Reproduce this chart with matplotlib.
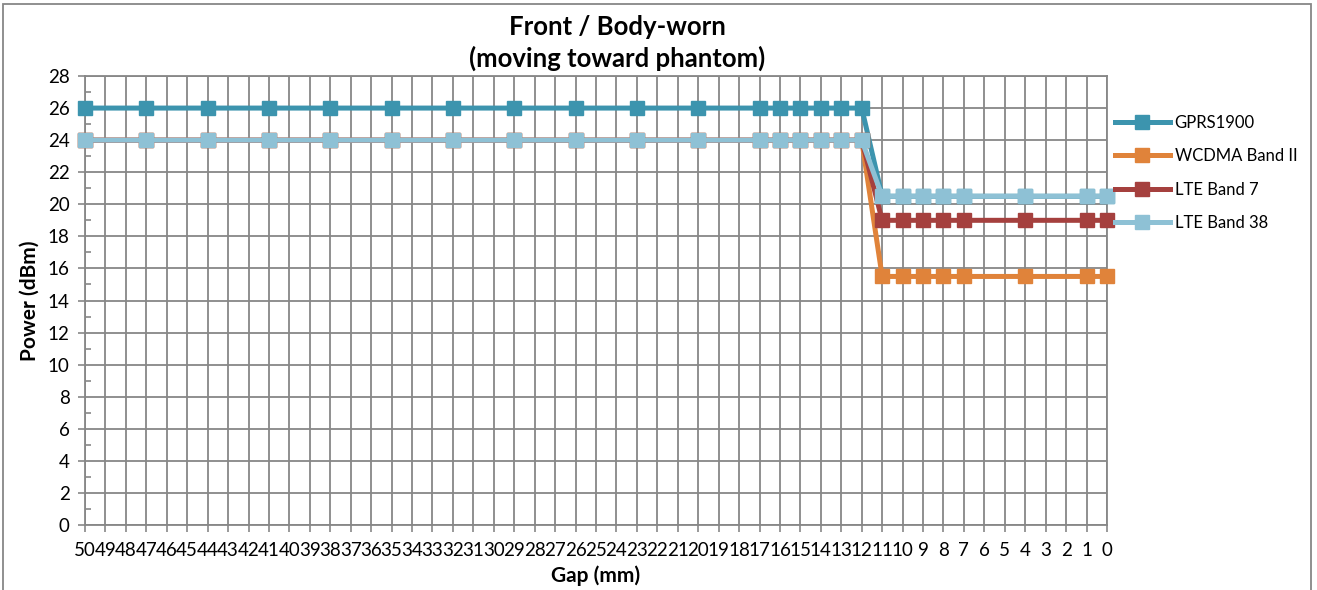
import matplotlib
matplotlib.use("Agg")
import matplotlib.pyplot as plt
from matplotlib.patches import Rectangle

# Datos
gap = [50, 47, 44, 41, 38, 35, 32, 29, 26, 23, 20, 17, 16, 15, 14, 13, 12,
       11, 10, 9, 8, 7, 4, 1, 0]
gprs1900 = [26, 26, 26, 26, 26, 26, 26, 26, 26, 26, 26, 26, 26, 26, 26, 26, 26,
            20.5, 20.5, 20.5, 20.5, 20.5, 20.5, 20.5, 20.5]
wcdma_b2 = [24, 24, 24, 24, 24, 24, 24, 24, 24, 24, 24, 24, 24, 24, 24, 24, 24,
            15.5, 15.5, 15.5, 15.5, 15.5, 15.5, 15.5, 15.5]
lte_b7 = [24, 24, 24, 24, 24, 24, 24, 24, 24, 24, 24, 24, 24, 24, 24, 24, 24,
          19, 19, 19, 19, 19, 19, 19, 19]
lte_b38 = [24, 24, 24, 24, 24, 24, 24, 24, 24, 24, 24, 24, 24, 24, 24, 24, 24,
           20.5, 20.5, 20.5, 20.5, 20.5, 20.5, 20.5, 20.5]

series = [("GPRS1900", gprs1900, "#3C94AE"),
          ("WCDMA Band II", wcdma_b2, "#E0833A"),
          ("LTE Band 7", lte_b7, "#A5403E"),
          ("LTE Band 38", lte_b38, "#8EC1D5")]

gap_labels = [str(g) for g in range(50, -1, -1)]

plt.rcParams['font.family'] = ['Lato', 'DejaVu Sans']

fig = plt.figure(figsize=(13.17, 5.90), dpi=100)
ax = fig.add_axes([85/1317, 1 - 525/590, (1107 - 85)/1317, (525 - 76)/590])

grid_col = "#878787"
x = [50 - g for g in gap]
for name, vals, col in series:
    ax.plot(x, vals, color=col, lw=3.6, marker='s', markersize=10.5,
            markeredgecolor=col, label=name, zorder=3, clip_on=False)

ax.set_xlim(0, 50)
ax.set_ylim(0, 28)
ax.set_xticks(range(51))
ax.set_xticklabels(gap_labels, fontsize=13.5)
ax.set_yticks(range(0, 29, 2))
ax.set_yticks(range(1, 28, 2), minor=True)
ax.tick_params(axis='y', which='major', direction='out', length=5,
               color=grid_col, width=1.2, labelsize=13.5, pad=6)
ax.tick_params(axis='y', which='minor', direction='in', length=4,
               color=grid_col, width=1.2)
ax.tick_params(axis='x', direction='out', length=5, color=grid_col,
               width=1.2, pad=7)
ax.grid(True, which='major', color=grid_col, lw=1.3, zorder=0)
for s in ax.spines.values():
    s.set_color(grid_col)
    s.set_linewidth(1.3)

ax.set_xlabel("Gap (mm)", fontsize=15, fontweight='bold', labelpad=5)
ax.set_ylabel("Power (dBm)", fontsize=15, fontweight='bold', labelpad=6)

fig.text(617/1317, 1 - 43/590, "Front / Body-worn\n(moving toward phantom)",
         ha='center', va='center', fontsize=18.5, fontweight='bold',
         linespacing=1.3)

fig.legend(loc='center left', bbox_to_anchor=(1108/1317, 1 - 173/590),
           frameon=False, fontsize=12, handlelength=3.3,
           labelspacing=1.05, handletextpad=0.3, borderaxespad=0)

# Borde del área del gráfico
fig.patches.append(Rectangle((3/1317, -0.01), 1308/1317, 1 - 4/590 + 0.01,
                             transform=fig.transFigure, fill=False,
                             edgecolor=grid_col, lw=1.3))

fig.savefig("out.png", dpi=100)
